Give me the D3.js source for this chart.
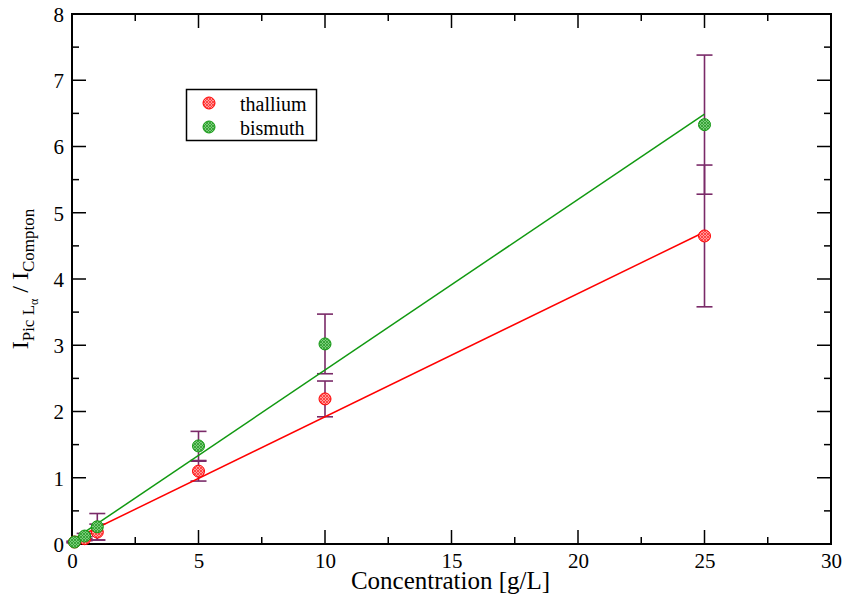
<!DOCTYPE html>
<html><head><meta charset="utf-8">
<script src="https://cdn.jsdelivr.net/npm/d3@7/dist/d3.min.js"></script>
<style>body{margin:0;background:#fff}svg{display:block}svg text{font-family:"Liberation Serif",serif !important}</style>
</head><body><svg id="c" width="842" height="601" font-family="Liberation Serif"></svg>
<script>
const concentrations = [0.1, 0.5, 1, 5, 10, 25];
const thallium = [0.03, 0.08, 0.18, 1.10, 2.19, 4.65];
const thalliumErr = [0.01, 0.03, 0.12, 0.15, 0.27, 1.07];
const bismuth = [0.03, 0.12, 0.26, 1.48, 3.02, 6.33];
const bismuthErr = [0.01, 0.04, 0.20, 0.22, 0.45, 1.05];
const fitX = [0, 25];
const thalliumFit = [0.06, 4.71];
const bismuthFit = [0.05, 6.49];
const xTicks = [0, 5, 10, 15, 20, 25, 30];
const yTicks = [0, 1, 2, 3, 4, 5, 6, 7, 8];
const seriesNames = ["thallium", "bismuth"];

const FONT = "Liberation Serif";
const svg = d3.select("#c");
const L = 72, R = 831, T = 14, B = 544;
const x = d3.scaleLinear().domain([0, 30]).range([L, R]);
const y = d3.scaleLinear().domain([0, 8]).range([B, T]);

// patterns
const defs = svg.append("defs");
function pat(id, base, line) {
  const p = defs.append("pattern").attr("id", id).attr("width", 3).attr("height", 3)
    .attr("patternUnits", "userSpaceOnUse");
  p.append("rect").attr("width", 3).attr("height", 3).attr("fill", base);
  p.append("path").attr("d", "M0,0L3,3M3,0L0,3").attr("stroke", line).attr("stroke-width", 0.8);
}
pat("pr", "#ff9a9a", "#ff3030");
pat("pg", "#7acc7a", "#2a9a2a");

const series = [
  {name: seriesNames[0], vals: thallium, err: thalliumErr, fit: thalliumFit, color: "#ff0000", fill: "url(#pr)"},
  {name: seriesNames[1], vals: bismuth, err: bismuthErr, fit: bismuthFit, color: "#119911", fill: "url(#pg)"}
];

// axes (ticks inward on all sides)
const minorX = d3.range(0, 30.01, 2.5), minorY = d3.range(0, 8.01, 0.5);
const g = svg.append("g");
const bottom = d3.axisBottom(x).tickValues(xTicks).tickSize(0).tickPadding(9).tickFormat(d3.format("d"));
const left = d3.axisLeft(y).tickValues(yTicks).tickSize(0).tickPadding(8).tickFormat(d3.format("d"));
const ax1 = g.append("g").attr("transform", `translate(0,${B})`).call(bottom);
const ay1 = g.append("g").attr("transform", `translate(${L},0)`).call(left);
[ax1, ay1].forEach(a => {
  a.attr("font-family", FONT).attr("font-size", 21);
  a.select(".domain").remove();
  a.selectAll("text").attr("font-size", 21).attr("fill", "#000").attr("font-family", FONT);
});
ay1.selectAll("text").attr("dy", "0.35em");

const tk = svg.append("g").attr("stroke", "#000").attr("stroke-width", 1.5);
minorX.forEach(v => {
  const len = (v % 5 === 0) ? 14 : 7;
  tk.append("line").attr("x1", x(v)).attr("x2", x(v)).attr("y1", B).attr("y2", B - len);
  tk.append("line").attr("x1", x(v)).attr("x2", x(v)).attr("y1", T).attr("y2", T + len);
});
minorY.forEach(v => {
  const len = (v % 1 === 0) ? 14 : 7;
  tk.append("line").attr("y1", y(v)).attr("y2", y(v)).attr("x1", L).attr("x2", L + len);
  tk.append("line").attr("y1", y(v)).attr("y2", y(v)).attr("x1", R).attr("x2", R - len);
});
svg.append("rect").attr("x", L).attr("y", T).attr("width", R - L).attr("height", B - T)
  .attr("fill", "none").attr("stroke", "#000").attr("stroke-width", 2);

// error bars
const eb = svg.append("g").attr("stroke", "#7a2a68").attr("stroke-width", 1.6).attr("fill", "none");
series.forEach(s => {
  concentrations.forEach((c, i) => {
    const lo = y(s.vals[i] - s.err[i]), hi = y(s.vals[i] + s.err[i]), cx = x(c);
    eb.append("line").attr("x1", cx).attr("x2", cx).attr("y1", lo).attr("y2", hi);
    eb.append("line").attr("x1", cx - 8).attr("x2", cx + 8).attr("y1", lo).attr("y2", lo);
    eb.append("line").attr("x1", cx - 8).attr("x2", cx + 8).attr("y1", hi).attr("y2", hi);
  });
});

// fit lines
const line = d3.line().x(d => x(d[0])).y(d => y(d[1]));
series.forEach(s => {
  svg.append("path").datum(fitX.map((v, i) => [v, s.fit[i]])).attr("d", line)
    .attr("fill", "none").attr("stroke", s.color).attr("stroke-width", 1.5);
});

// points
series.forEach(s => {
  svg.append("g").selectAll("circle").data(concentrations).join("circle")
    .attr("cx", d => x(d)).attr("cy", (d, i) => y(s.vals[i])).attr("r", 6)
    .attr("fill", s.fill).attr("stroke", s.color).attr("stroke-width", 1);
});

// legend
const lg = svg.append("g");
lg.append("rect").attr("x", 186.5).attr("y", 89.5).attr("width", 130).attr("height", 51)
  .attr("fill", "#fff").attr("stroke", "#000").attr("stroke-width", 1.5);
series.forEach((s, i) => {
  const cy = 103 + i * 24;
  lg.append("circle").attr("cx", 209).attr("cy", cy).attr("r", 6).attr("fill", s.fill).attr("stroke", s.color);
  lg.append("text").attr("x", 240).attr("y", cy + 8).attr("font-size", 20).attr("font-family", FONT).text(s.name);
});

// axis titles
svg.append("text").attr("x", (L + R) / 2 - 1).attr("y", 589).attr("text-anchor", "middle")
  .attr("font-family", FONT).attr("font-size", 25).text("Concentration [g/L]");
const yt = svg.append("text").attr("transform", "translate(28,279) rotate(-90)").attr("text-anchor", "middle")
  .attr("font-family", FONT).attr("font-size", 24);
yt.append("tspan").text("I");
yt.append("tspan").attr("font-size", 17).attr("dy", 6).text("Pic L");
yt.append("tspan").attr("font-size", 12).attr("dy", 4).text("α");
yt.append("tspan").attr("dy", -10).text(" / I");
yt.append("tspan").attr("font-size", 17).attr("dy", 6).text("Compton");
</script></body></html>
